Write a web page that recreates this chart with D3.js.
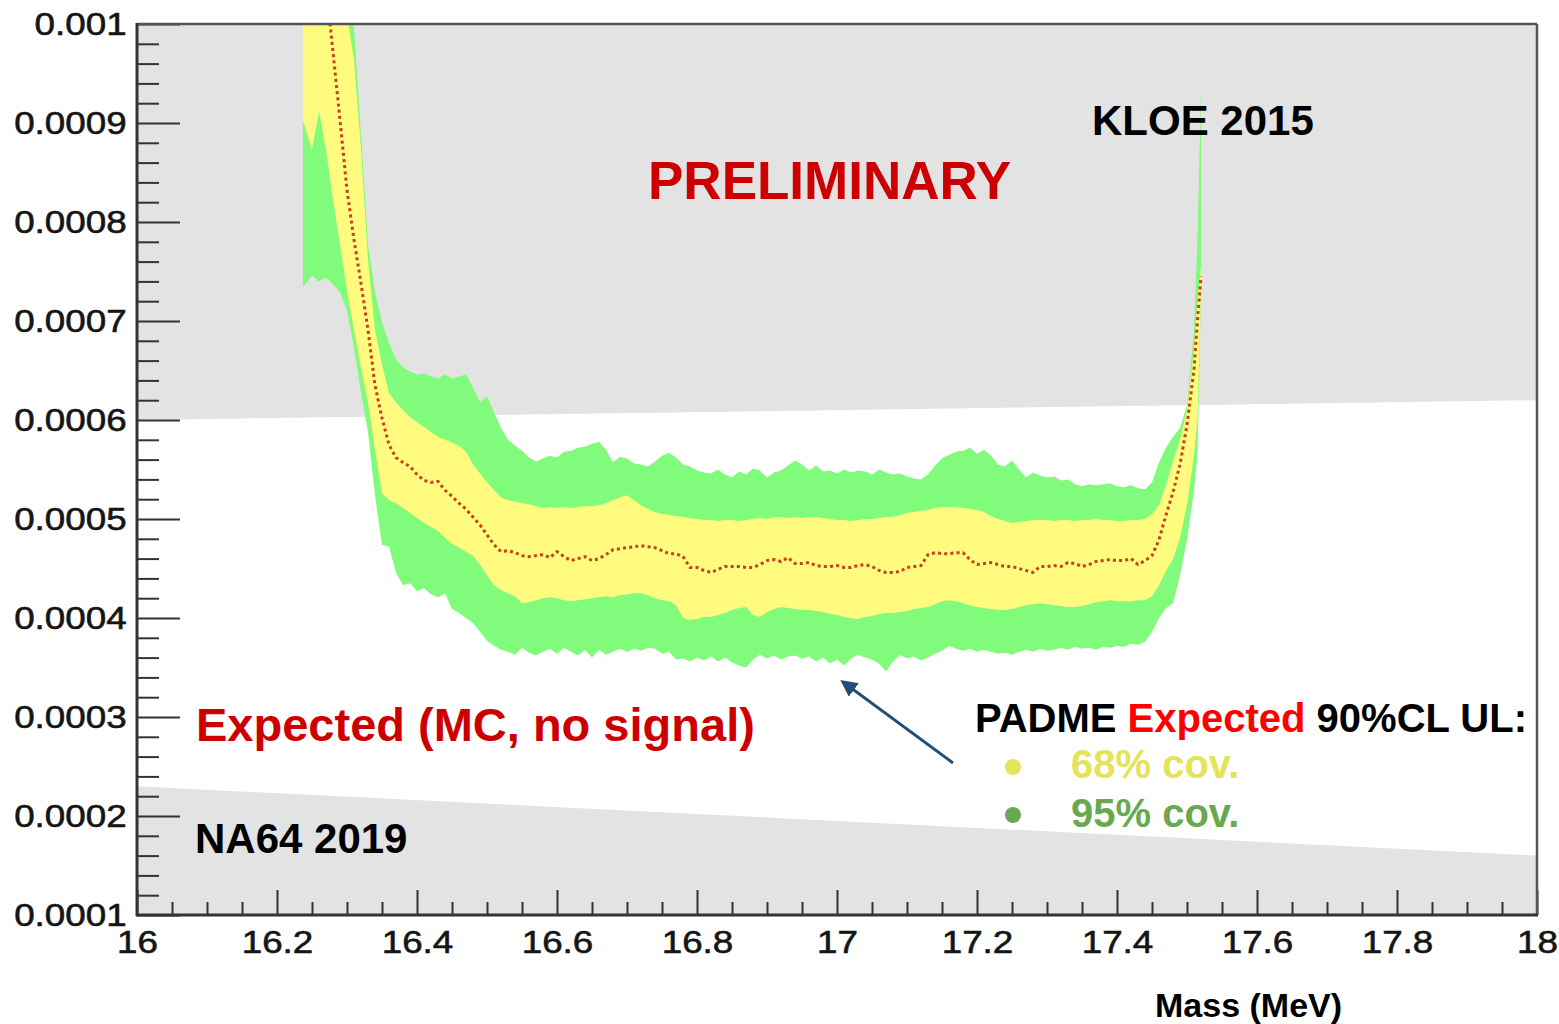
<!DOCTYPE html>
<html>
<head>
<meta charset="utf-8">
<script src="https://cdn.jsdelivr.net/npm/d3@7"></script>
<style>
  html, body { margin: 0; padding: 0; background: #ffffff; }
  svg { display: block; font-family: "Liberation Sans", Arial, Helvetica, sans-serif; }
</style>
</head>
<body>
<svg id="chart" width="1559" height="1024"></svg>
<script>
// Expected 90% CL upper limits vs. mass; band values are in units of 1e-4
const UNIT = 1e-4;

const mass = [
  16.237, 16.25, 16.26, 16.27, 16.28, 16.29, 16.30, 16.31, 16.32, 16.33,
  16.34, 16.35, 16.36, 16.37, 16.38, 16.39, 16.40, 16.41, 16.42, 16.43,
  16.44, 16.45, 16.46, 16.47, 16.48, 16.49, 16.50, 16.51, 16.52, 16.53,
  16.54, 16.55, 16.56, 16.57, 16.58, 16.59, 16.60, 16.61, 16.62, 16.63,
  16.64, 16.65, 16.66, 16.67, 16.68, 16.69, 16.70, 16.71, 16.72, 16.73,
  16.74, 16.75, 16.76, 16.77, 16.78, 16.79, 16.80, 16.81, 16.82, 16.83,
  16.84, 16.85, 16.86, 16.87, 16.88, 16.89, 16.90, 16.91, 16.92, 16.93,
  16.94, 16.95, 16.96, 16.97, 16.98, 16.99, 17.00, 17.01, 17.02, 17.03,
  17.04, 17.05, 17.06, 17.07, 17.08, 17.09, 17.10, 17.11, 17.12, 17.13,
  17.14, 17.15, 17.16, 17.17, 17.18, 17.19, 17.20, 17.21, 17.22, 17.23,
  17.24, 17.25, 17.26, 17.27, 17.28, 17.29, 17.30, 17.31, 17.32, 17.33,
  17.34, 17.35, 17.36, 17.37, 17.38, 17.39, 17.40, 17.41, 17.42, 17.43,
  17.44, 17.45, 17.46, 17.47, 17.48, 17.49, 17.50, 17.51, 17.515, 17.52
];

// 95% coverage band, lower edge
const ul95Lo = [
  7.34, 7.46, 7.40, 7.44, 7.37, 7.29, 7.11, 6.73, 6.28, 5.88,
  5.24, 4.74, 4.72, 4.46, 4.33, 4.35, 4.27, 4.30, 4.24, 4.21,
  4.25, 4.09, 4.05, 4.00, 3.95, 3.86, 3.77, 3.72, 3.68, 3.66,
  3.63, 3.70, 3.65, 3.62, 3.66, 3.69, 3.64, 3.70, 3.66, 3.62,
  3.68, 3.60, 3.68, 3.63, 3.66, 3.69, 3.66, 3.69, 3.67, 3.70,
  3.69, 3.64, 3.66, 3.58, 3.59, 3.56, 3.60, 3.57, 3.61, 3.56,
  3.60, 3.55, 3.52, 3.50, 3.58, 3.63, 3.59, 3.62, 3.58, 3.61,
  3.62, 3.59, 3.61, 3.56, 3.60, 3.54, 3.58, 3.52, 3.59, 3.63,
  3.60, 3.58, 3.54, 3.46, 3.56, 3.63, 3.59, 3.61, 3.57, 3.60,
  3.64, 3.67, 3.72, 3.69, 3.67, 3.69, 3.66, 3.68, 3.66, 3.64,
  3.65, 3.63, 3.66, 3.68, 3.66, 3.69, 3.67, 3.68, 3.70, 3.68,
  3.71, 3.69, 3.70, 3.68, 3.71, 3.70, 3.72, 3.71, 3.74, 3.73,
  3.76, 3.86, 4.00, 4.10, 4.15, 4.43, 4.79, 5.29, 5.65, 7.30
];

// 68% coverage band, lower edge
const ul68Lo = [
  9.03, 8.73, 9.12, 8.73, 8.22, 7.77, 7.31, 6.91, 6.53, 6.18,
  5.70, 5.26, 5.19, 5.16, 5.11, 5.06, 5.01, 4.96, 4.92, 4.88,
  4.81, 4.75, 4.71, 4.67, 4.63, 4.54, 4.43, 4.33, 4.28, 4.25,
  4.22, 4.15, 4.16, 4.18, 4.20, 4.21, 4.20, 4.18, 4.17, 4.18,
  4.19, 4.20, 4.21, 4.22, 4.21, 4.23, 4.24, 4.25, 4.25, 4.23,
  4.20, 4.18, 4.17, 4.13, 4.00, 3.98, 3.99, 4.01, 4.01, 4.03,
  4.05, 4.08, 4.10, 4.11, 4.03, 4.01, 4.06, 4.09, 4.11, 4.10,
  4.09, 4.08, 4.08, 4.07, 4.06, 4.04, 4.03, 4.01, 4.00, 3.99,
  4.01, 4.02, 4.04, 4.05, 4.05, 4.06, 4.07, 4.09, 4.10, 4.11,
  4.14, 4.17, 4.18, 4.17, 4.15, 4.13, 4.11, 4.10, 4.09, 4.08,
  4.08, 4.09, 4.11, 4.13, 4.14, 4.15, 4.14, 4.13, 4.12, 4.11,
  4.11, 4.12, 4.14, 4.16, 4.17, 4.18, 4.17, 4.17, 4.17, 4.18,
  4.18, 4.22, 4.33, 4.48, 4.59, 4.81, 5.14, 5.65, 6.00, 7.40
];

// median expected limit (no signal); null where it runs above the frame
const ulMedian = [
  null, null, null, 10.38, 9.72, 9.03, 8.32, 7.82, 7.38, 6.91,
  6.35, 6.02, 5.75, 5.62, 5.57, 5.53, 5.45, 5.39, 5.37, 5.38,
  5.29, 5.23, 5.16, 5.10, 5.02, 4.94, 4.84, 4.74, 4.67, 4.68,
  4.66, 4.63, 4.62, 4.63, 4.64, 4.61, 4.67, 4.62, 4.58, 4.60,
  4.62, 4.58, 4.60, 4.64, 4.69, 4.70, 4.71, 4.72, 4.73, 4.72,
  4.71, 4.68, 4.65, 4.65, 4.62, 4.51, 4.51, 4.48, 4.46, 4.49,
  4.52, 4.52, 4.52, 4.51, 4.51, 4.54, 4.58, 4.59, 4.57, 4.61,
  4.55, 4.55, 4.56, 4.53, 4.52, 4.52, 4.53, 4.51, 4.51, 4.53,
  4.54, 4.52, 4.48, 4.46, 4.46, 4.47, 4.51, 4.52, 4.53, 4.64,
  4.66, 4.65, 4.65, 4.66, 4.66, 4.59, 4.54, 4.55, 4.56, 4.54,
  4.52, 4.52, 4.50, 4.48, 4.46, 4.52, 4.52, 4.53, 4.52, 4.56,
  4.55, 4.52, 4.54, 4.57, 4.58, 4.59, 4.58, 4.58, 4.60, 4.54,
  4.58, 4.63, 4.79, 5.04, 5.27, 5.55, 5.95, 6.51, 7.01, 7.45
];

// 68% coverage band, upper edge
const ul68Hi = [
  10.8, 10.8, 10.7, 10.6, 10.5, 10.3, 10.1, 9.64, 8.73, 7.62,
  6.91, 6.56, 6.27, 6.18, 6.10, 6.03, 5.98, 5.93, 5.88, 5.83,
  5.80, 5.77, 5.74, 5.68, 5.55, 5.46, 5.37, 5.29, 5.22, 5.19,
  5.18, 5.16, 5.15, 5.13, 5.11, 5.12, 5.11, 5.12, 5.11, 5.12,
  5.13, 5.13, 5.14, 5.16, 5.19, 5.22, 5.24, 5.19, 5.14, 5.10,
  5.07, 5.05, 5.04, 5.03, 5.02, 5.01, 5.00, 4.99, 4.99, 4.98,
  4.99, 4.99, 4.98, 4.99, 5.00, 5.01, 5.00, 5.02, 5.02, 5.01,
  5.02, 5.01, 5.02, 5.02, 5.01, 5.00, 4.99, 4.99, 4.98, 4.99,
  5.00, 5.00, 5.01, 5.02, 5.02, 5.04, 5.06, 5.07, 5.08, 5.09,
  5.11, 5.12, 5.12, 5.12, 5.11, 5.10, 5.09, 5.07, 5.03, 5.00,
  4.98, 4.96, 4.97, 4.98, 4.99, 4.99, 4.99, 4.98, 4.99, 4.99,
  4.98, 4.99, 4.99, 5.00, 4.99, 4.99, 4.98, 4.98, 4.99, 4.99,
  5.00, 5.05, 5.14, 5.34, 5.58, 5.80, 6.10, 6.71, 7.21, 7.55
];

// 95% coverage band, upper edge
const ul95Hi = [
  11.0, 11.0, 10.9, 10.9, 10.8, 10.6, 10.3, 9.94, 8.88, 7.77,
  7.29, 6.99, 6.78, 6.61, 6.53, 6.49, 6.46, 6.47, 6.44, 6.42,
  6.46, 6.42, 6.44, 6.46, 6.33, 6.18, 6.24, 6.08, 5.92, 5.80,
  5.74, 5.69, 5.62, 5.58, 5.61, 5.64, 5.62, 5.68, 5.69, 5.72,
  5.73, 5.76, 5.78, 5.70, 5.57, 5.63, 5.61, 5.56, 5.55, 5.53,
  5.58, 5.64, 5.67, 5.62, 5.55, 5.53, 5.49, 5.47, 5.46, 5.50,
  5.45, 5.42, 5.48, 5.45, 5.51, 5.49, 5.42, 5.47, 5.49, 5.54,
  5.59, 5.55, 5.49, 5.54, 5.48, 5.49, 5.46, 5.50, 5.47, 5.49,
  5.48, 5.45, 5.50, 5.47, 5.45, 5.46, 5.43, 5.41, 5.40, 5.45,
  5.54, 5.61, 5.65, 5.68, 5.69, 5.72, 5.66, 5.70, 5.64, 5.55,
  5.53, 5.59, 5.50, 5.42, 5.47, 5.44, 5.42, 5.43, 5.39, 5.40,
  5.35, 5.33, 5.35, 5.34, 5.35, 5.36, 5.33, 5.32, 5.34, 5.31,
  5.30, 5.37, 5.57, 5.72, 5.83, 5.92, 6.15, 6.91, 7.82, 9.33
];

// Excluded regions from earlier experiments (units of 1e-4)
const excMass   = [16, 18];
const kloeLimit = [6.0, 6.2];
const na64Limit = [2.3, 1.6];

const xTickLabels = ["16", "16.2", "16.4", "16.6", "16.8", "17", "17.2", "17.4", "17.6", "17.8", "18"];
const yTickLabels = ["0.0001", "0.0002", "0.0003", "0.0004", "0.0005", "0.0006", "0.0007", "0.0008", "0.0009", "0.001"];

// ---- layout ----
const plot = { left: 137, top: 24, right: 1537, bottom: 915 };
const svg = d3.select("#chart");

const x = d3.scaleLinear().domain([16, 18]).range([plot.left, plot.right]);
const y = d3.scaleLinear().domain([0.0001, 0.001]).range([plot.bottom, plot.top]);

const defs = svg.append("defs");
defs.append("clipPath").attr("id", "plotClip")
  .append("rect")
  .attr("x", plot.left).attr("y", plot.top)
  .attr("width", plot.right - plot.left).attr("height", plot.bottom - plot.top);

const area = svg.append("g").attr("clip-path", "url(#plotClip)");

// white frame interior
area.append("rect")
  .attr("x", plot.left).attr("y", plot.top)
  .attr("width", plot.right - plot.left).attr("height", plot.bottom - plot.top)
  .attr("fill", "#ffffff");

const excl = excMass.map((m, i) => ({ m, kloe: kloeLimit[i] * UNIT, na64: na64Limit[i] * UNIT }));

// KLOE 2015 excluded (above its limit)
area.append("path")
  .datum(excl)
  .attr("fill", "#e3e3e3")
  .attr("d", d3.area().x(d => x(d.m)).y0(() => y(0.001)).y1(d => y(d.kloe)));

// NA64 2019 excluded (below its limit)
area.append("path")
  .datum(excl)
  .attr("fill", "#e3e3e3")
  .attr("d", d3.area().x(d => x(d.m)).y0(() => y(0.0001)).y1(d => y(d.na64)));

const rows = mass.map((m, i) => ({
  m,
  lo95: ul95Lo[i] * UNIT,
  lo68: ul68Lo[i] * UNIT,
  med: ulMedian[i] == null ? null : ulMedian[i] * UNIT,
  hi68: ul68Hi[i] * UNIT,
  hi95: ul95Hi[i] * UNIT
}));

area.append("path")
  .datum(rows)
  .attr("fill", "#80fb7b")
  .attr("d", d3.area().x(d => x(d.m)).y0(d => y(d.lo95)).y1(d => y(d.hi95)));

area.append("path")
  .datum(rows)
  .attr("fill", "#fffb7f")
  .attr("d", d3.area().x(d => x(d.m)).y0(d => y(d.lo68)).y1(d => y(d.hi68)));

area.append("path")
  .datum(rows)
  .attr("fill", "none")
  .attr("stroke", "#c8401a")
  .attr("stroke-width", 3)
  .attr("stroke-dasharray", "3,3.2")
  .attr("d", d3.line().defined(d => d.med != null).x(d => x(d.m)).y(d => y(d.med)));

// ---- axes ----
const xMajor = xTickLabels.map(Number);
const xMinor = d3.range(16, 18.0001, 0.05).filter(v => xMajor.every(t => Math.abs(t - v) > 1e-6));
const yMajor = yTickLabels.map(Number);
const yMinor = d3.range(0.0001, 0.00100001, 0.00002).filter(v => yMajor.every(t => Math.abs(t - v) > 1e-9));

const axisColor = "#333333";

const yMinorAxis = svg.append("g").attr("transform", `translate(${plot.left},0)`)
  .call(d3.axisLeft(y).tickValues(yMinor).tickSizeInner(-22).tickSizeOuter(0).tickFormat(""));
const yAxis = svg.append("g").attr("transform", `translate(${plot.left},0)`)
  .call(d3.axisLeft(y).tickValues(yMajor).tickSizeInner(-43).tickSizeOuter(0).tickPadding(9)
    .tickFormat((d, i) => yTickLabels[i]));

const xMinorAxis = svg.append("g").attr("transform", `translate(0,${plot.bottom})`)
  .call(d3.axisBottom(x).tickValues(xMinor).tickSizeInner(-13).tickSizeOuter(0).tickFormat(""));
const xAxis = svg.append("g").attr("transform", `translate(0,${plot.bottom})`)
  .call(d3.axisBottom(x).tickValues(xMajor).tickSizeInner(-25).tickSizeOuter(0).tickPadding(15)
    .tickFormat((d, i) => xTickLabels[i]));

[yMinorAxis, yAxis, xMinorAxis, xAxis].forEach(g => {
  g.select(".domain").remove();
  g.selectAll(".tick line").attr("stroke", axisColor).attr("stroke-width", 2);
});
[yAxis, xAxis].forEach(g => {
  g.selectAll(".tick text")
    .attr("font-family", "'Liberation Sans', Arial, Helvetica, sans-serif")
    .attr("font-size", 32)
    .attr("fill", "#151515")
    .attr("stroke", "#151515")
    .attr("stroke-width", 0.6)
    .attr("transform", "scale(1.15,1)");
});

// frame
svg.append("line").attr("x1", plot.left).attr("x2", plot.right).attr("y1", plot.top).attr("y2", plot.top)
  .attr("stroke", "#555").attr("stroke-width", 2.5);
svg.append("line").attr("x1", plot.right).attr("x2", plot.right).attr("y1", plot.top).attr("y2", plot.bottom)
  .attr("stroke", "#555").attr("stroke-width", 2.5);
svg.append("line").attr("x1", plot.left).attr("x2", plot.left).attr("y1", plot.top - 1).attr("y2", plot.bottom + 1)
  .attr("stroke", axisColor).attr("stroke-width", 3);
svg.append("line").attr("x1", plot.left - 1).attr("x2", plot.right + 1).attr("y1", plot.bottom).attr("y2", plot.bottom)
  .attr("stroke", axisColor).attr("stroke-width", 3);

// axis title
svg.append("text").attr("x", 1155).attr("y", 1017)
  .attr("font-size", 34).attr("font-weight", "bold").attr("fill", "#000")
  .text("Mass (MeV)");

// ---- annotations ----
const note = (tx, ty, size, color, str) =>
  svg.append("text").attr("x", tx).attr("y", ty)
    .attr("font-size", size).attr("font-weight", "bold").attr("fill", color).text(str);

note(648, 199, 53, "#cc0000", "PRELIMINARY");
note(1092, 135, 42, "#000000", "KLOE 2015");
note(196, 741, 47, "#cc0000", "Expected (MC, no signal)");
note(195, 853, 42, "#000000", "NA64 2019");

const legendTitle = svg.append("text").attr("x", 975).attr("y", 732)
  .attr("font-size", 40).attr("font-weight", "bold").attr("fill", "#000");
legendTitle.append("tspan").text("PADME ");
legendTitle.append("tspan").attr("fill", "#ff0000").text("Expected");
legendTitle.append("tspan").text(" 90%CL UL:");

svg.append("circle").attr("cx", 1013).attr("cy", 767).attr("r", 8).attr("fill", "#e4e35a");
svg.append("circle").attr("cx", 1013).attr("cy", 815).attr("r", 8).attr("fill", "#6aa84f");
note(1071, 778, 40, "#e4e35a", "68% cov.");
note(1071, 827, 40, "#6aa84f", "95% cov.");

// arrow pointing at the bands
defs.append("marker")
  .attr("id", "arrowHead")
  .attr("viewBox", "0 0 10 10")
  .attr("refX", 8).attr("refY", 5)
  .attr("markerWidth", 6).attr("markerHeight", 6)
  .attr("orient", "auto-start-reverse")
  .append("path").attr("d", "M0,0 L10,5 L0,10 z").attr("fill", "#1f4e79");
svg.append("line")
  .attr("x1", 953).attr("y1", 763).attr("x2", 843).attr("y2", 682)
  .attr("stroke", "#1f4e79").attr("stroke-width", 2.8)
  .attr("marker-end", "url(#arrowHead)");
</script>
</body>
</html>
